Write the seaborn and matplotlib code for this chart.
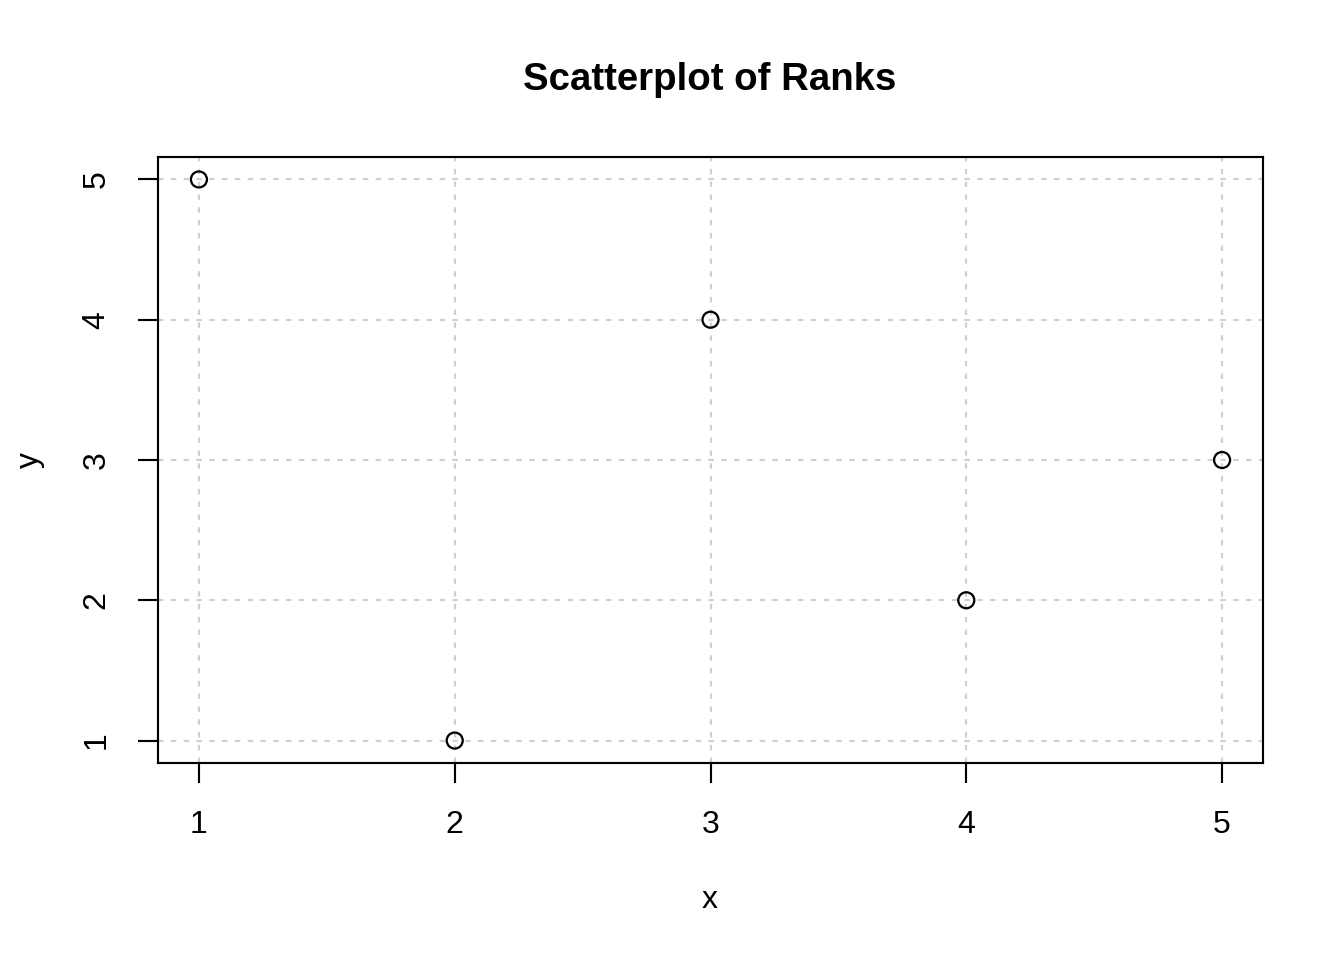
import matplotlib
matplotlib.use("Agg")
import matplotlib.pyplot as plt
import seaborn as sns
import pandas as pd

x_rank = [1, 2, 3, 4, 5]
y_rank = [5, 1, 4, 2, 3]
ticks = [1, 2, 3, 4, 5]
title = "Scatterplot of Ranks"

sns.set_style("ticks")
plt.rcParams['font.family'] = ['Liberation Sans', 'DejaVu Sans']
plt.rcParams['font.size'] = 12
plt.rcParams['text.color'] = 'black'
plt.rcParams['xtick.color'] = 'black'
plt.rcParams['ytick.color'] = 'black'
plt.rcParams['xtick.labelcolor'] = 'black'
plt.rcParams['ytick.labelcolor'] = 'black'

df = pd.DataFrame({"x": x_rank, "y": y_rank})

fig = plt.figure(figsize=(7, 5), dpi=192)
ax = fig.add_axes([158/1344, 1-763/960, (1263-158)/1344, (763-157)/960])

for t in ticks:
    ax.axvline(t, color="#CFCFCF", lw=0.8, dashes=(2.5, 3.5), zorder=1)
    ax.axhline(t, color="#CFCFCF", lw=0.8, dashes=(2.5, 3.5), zorder=1)

sns.scatterplot(data=df, x="x", y="y", ax=ax, marker="o", s=6.0**2,
                facecolor="none", edgecolor="black", linewidth=0.85, zorder=3)

ax.set_xlim(0.84, 5.16)
ax.set_ylim(0.84, 5.16)
ax.set_xticks(ticks)
ax.set_yticks(ticks)
ax.set_xticklabels([str(t) for t in ticks], fontsize=12, color="black")
ax.set_yticklabels([str(t) for t in ticks], fontsize=12, rotation=90, va="center", color="black")
ax.tick_params(axis="both", direction="out", length=7.5, width=0.8, color="black")
ax.tick_params(axis="x", pad=10)
ax.tick_params(axis="y", pad=10)
for sp in ax.spines.values():
    sp.set_visible(True)
    sp.set_linewidth(0.8)
    sp.set_color("black")

ax.set_xlabel("")
ax.set_ylabel("")
fig.text(710/1344, 1-900/960, "x", ha="center", va="center", fontsize=12, color="black")
fig.text(30/1344, 1-460/960, "y", ha="center", va="center", fontsize=12, rotation=90, color="black")
fig.text(710/1344, 1-80/960, title, ha="center", va="center", fontsize=14.4, fontweight="bold", color="black")

fig.savefig("out.png", dpi=192)
